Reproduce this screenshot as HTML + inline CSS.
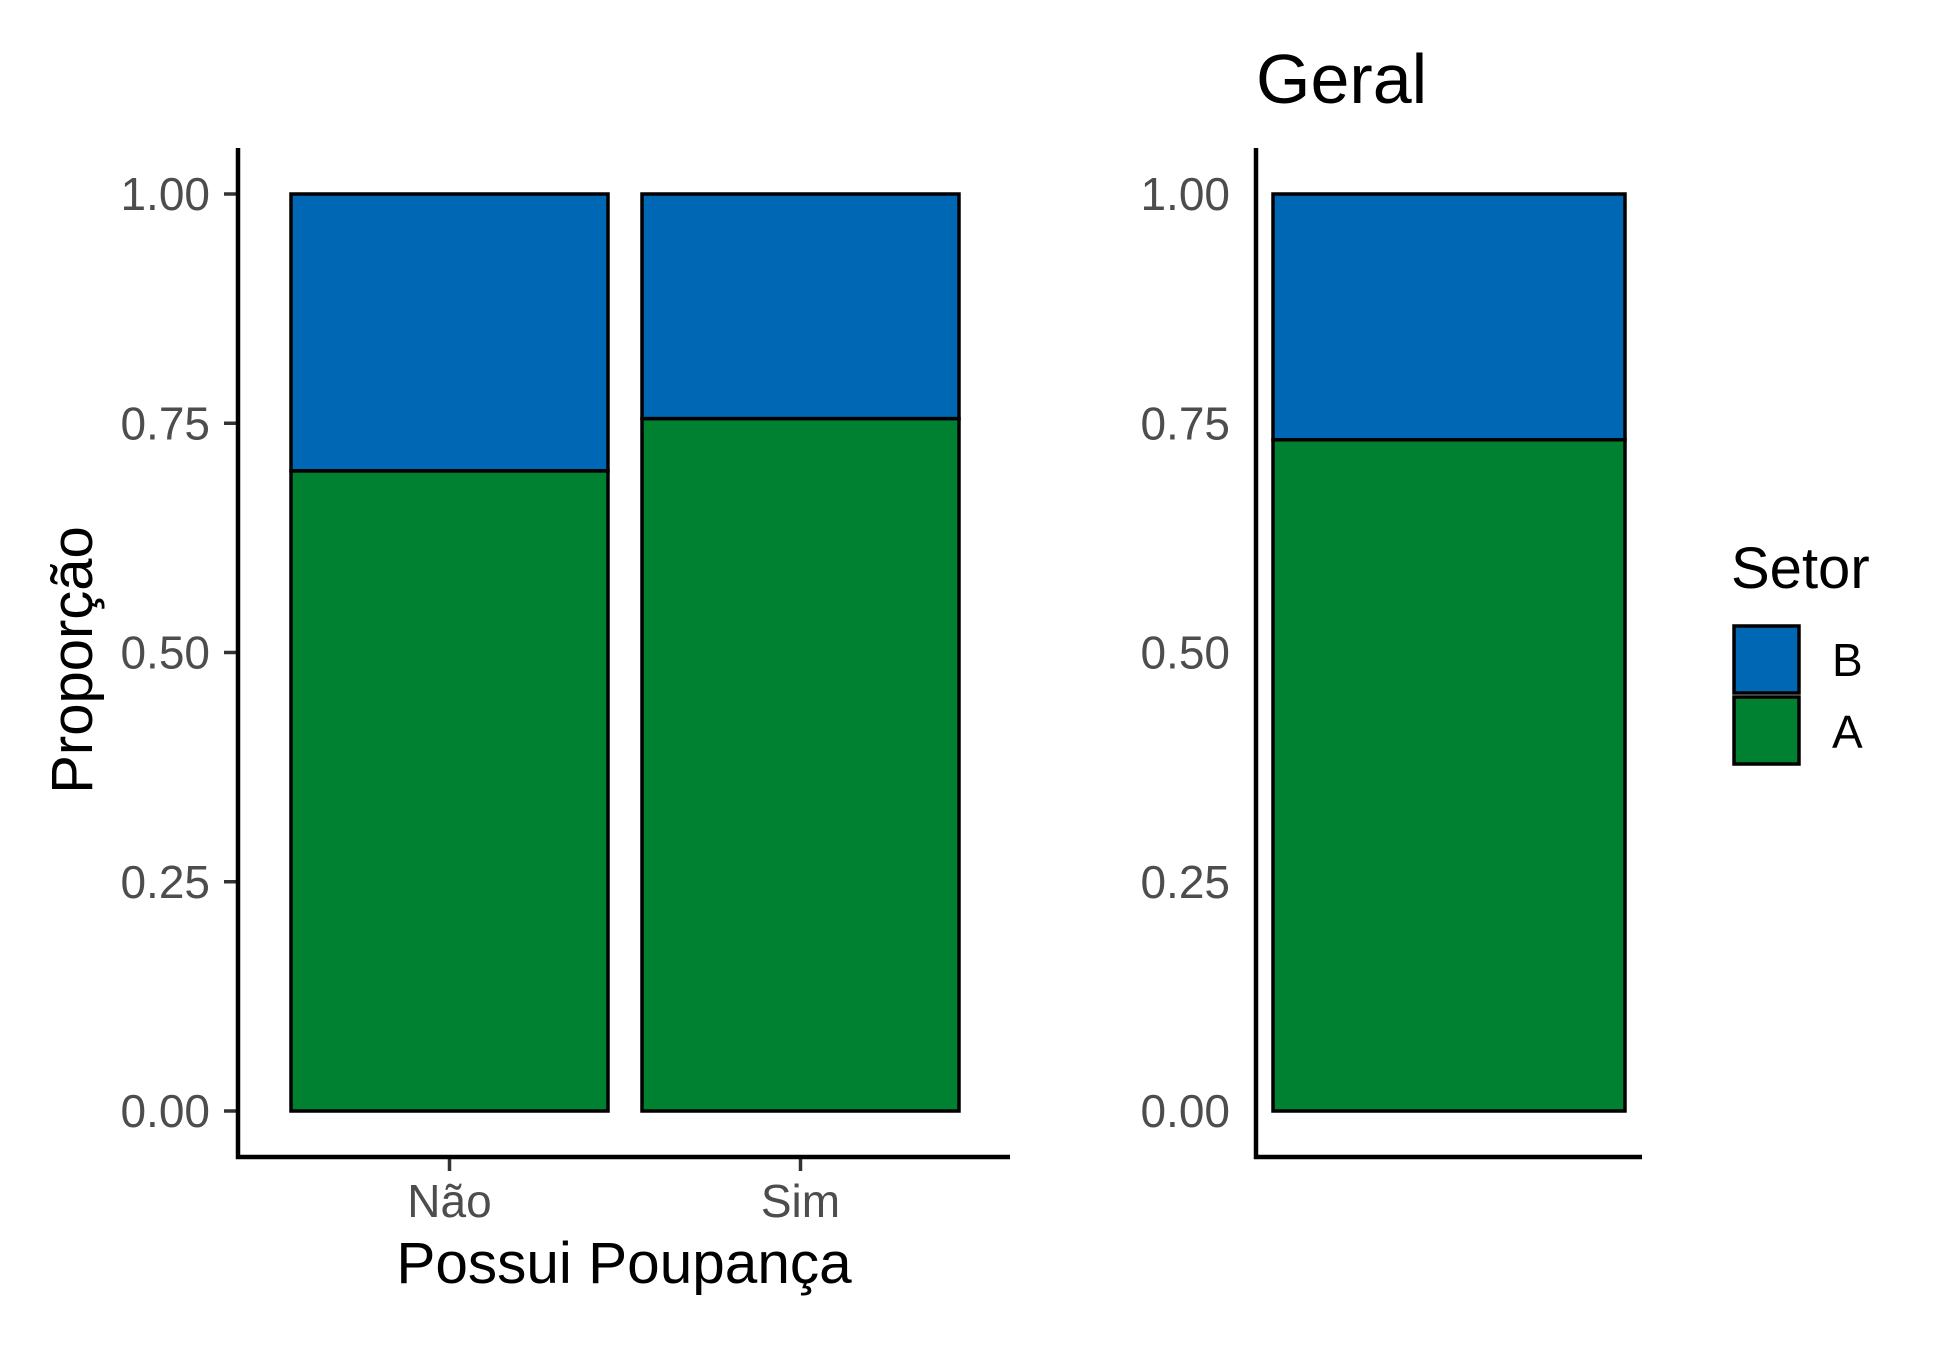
<!DOCTYPE html>
<html><head><meta charset="utf-8"><style>body{margin:0;background:#fff}svg{display:block}</style></head>
<body>
<svg id="chart" width="1950" height="1349" xmlns="http://www.w3.org/2000/svg" font-family="Liberation Sans, Arial, sans-serif"></svg>
<script>
const categories = ["Não", "Sim"];
const seriesA = [0.698, 0.755];
const geralA = [0.732];
const yTicks = [0, 0.25, 0.5, 0.75, 1];
const yTickLabels = ["0.00", "0.25", "0.50", "0.75", "1.00"];
const blue = "#0067B5", green = "#008031";
const svg = document.getElementById('chart');
const NS = "http://www.w3.org/2000/svg";
function mk(tag, attrs, name, parent) {
  const e = document.createElementNS(NS, tag);
  for (const k in attrs) e.setAttribute(k, attrs[k]);
  
  
  (parent || svg).appendChild(e);
  return e;
}
function txt(x, y, s, size, fill, anchor, name, extra) {
  const t = mk('text', Object.assign({x: x, y: y, 'font-size': size, fill: fill, 'text-anchor': anchor}, extra || {}), name);
  t.textContent = s;
  return t;
}
const y = v => 1111 - v * 917;
const xBand = i => 291 + i * 351;
const barW = 317;
categories.forEach((c, i) => {
  const a = seriesA[i];
  const x0 = xBand(i);
  mk('rect', {x: x0, y: y(1), width: barW, height: y(a) - y(1), fill: blue, stroke: '#000', 'stroke-width': 3.5}, 'bar-b-' + c.toLowerCase());
  mk('rect', {x: x0, y: y(a), width: barW, height: y(0) - y(a), fill: green, stroke: '#000', 'stroke-width': 3.5}, 'bar-a-' + c.toLowerCase());
  mk('line', {x1: x0 + barW / 2, x2: x0 + barW / 2, y1: 1157, y2: 1171, stroke: '#333', 'stroke-width': 3.5}, 'x-tick');
  txt(x0 + barW / 2, 1217, c, 46, '#4d4d4d', 'middle', 'x-tick-label');
});
yTicks.forEach((v, i) => {
  mk('line', {x1: 224, x2: 238, y1: y(v), y2: y(v), stroke: '#333', 'stroke-width': 3.5}, 'y-tick');
  txt(210, y(v) + 16, yTickLabels[i], 46, '#4d4d4d', 'end', 'y-tick-label');
  txt(1230, y(v) + 16, yTickLabels[i], 46, '#4d4d4d', 'end', 'geral-y-tick-label');
});
mk('path', {d: 'M238 148 V1157 H1010', fill: 'none', stroke: '#000', 'stroke-width': 4.5}, 'left-axes');
txt(624, 1283, 'Possui Poupança', 58.5, '#000', 'middle', 'x-axis-title');
txt(92, 660, 'Proporção', 58, '#000', 'middle', 'y-axis-title', {transform: 'rotate(-90 92 660)'});
geralA.forEach(a => {
  mk('rect', {x: 1273, y: y(1), width: 352, height: y(a) - y(1), fill: blue, stroke: '#000', 'stroke-width': 3.5}, 'geral-bar-b');
  mk('rect', {x: 1273, y: y(a), width: 352, height: y(0) - y(a), fill: green, stroke: '#000', 'stroke-width': 3.5}, 'geral-bar-a');
});
mk('path', {d: 'M1256 148 V1157 H1642', fill: 'none', stroke: '#000', 'stroke-width': 4.5}, 'geral-axes');
txt(1256, 103, 'Geral', 70, '#000', 'start', 'geral-title');
txt(1731, 588, 'Setor', 58, '#000', 'start', 'legend-title');
mk('rect', {x: 1734, y: 626, width: 65, height: 67, fill: blue, stroke: '#000', 'stroke-width': 3.5}, 'legend-key-b');
mk('rect', {x: 1734, y: 697, width: 65, height: 67, fill: green, stroke: '#000', 'stroke-width': 3.5}, 'legend-key-a');
txt(1832, 676, 'B', 46, '#000', 'start', 'legend-label-b');
txt(1832, 748, 'A', 46, '#000', 'start', 'legend-label-a');
</script>
</body></html>
